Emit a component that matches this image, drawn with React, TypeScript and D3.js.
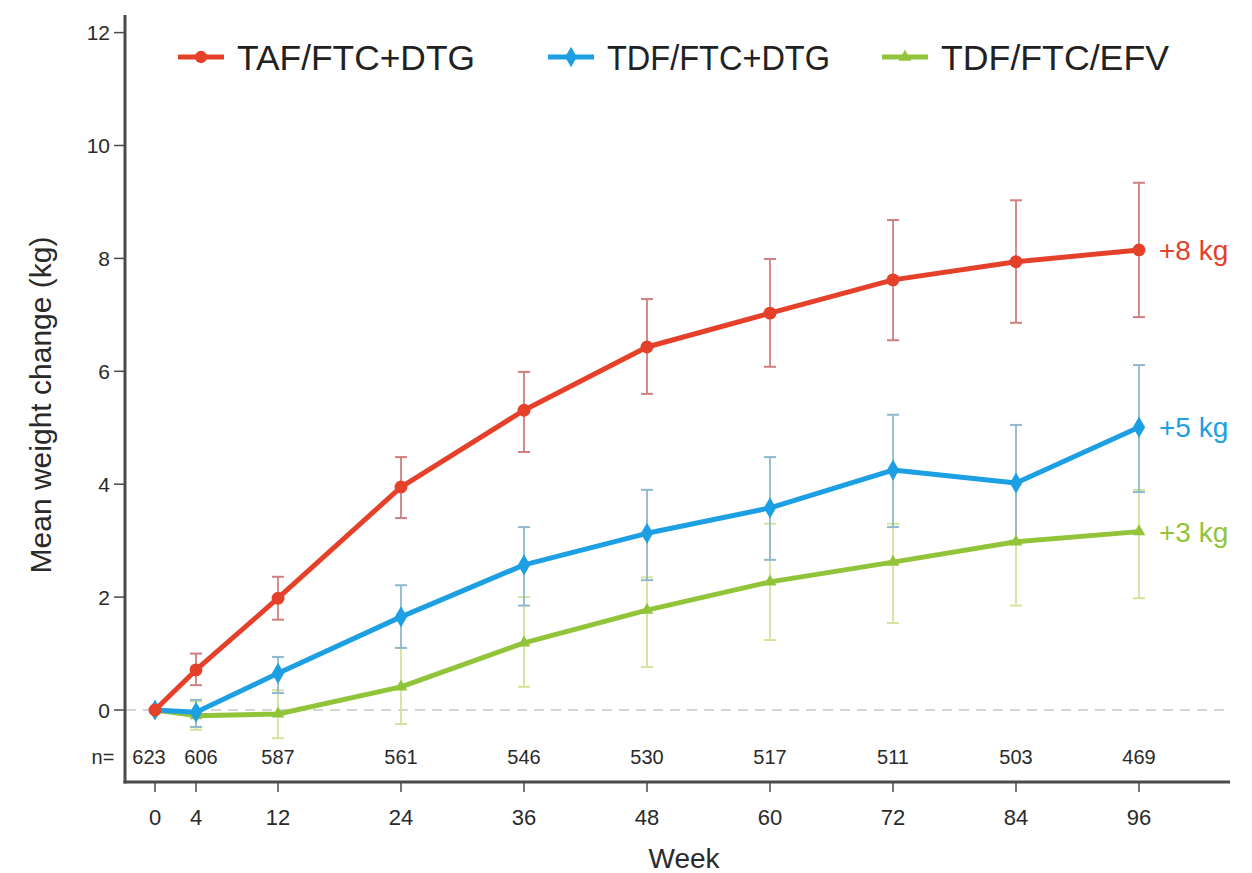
import React, { useEffect, useRef } from "react";
import * as d3 from "d3";

const weeks = [0, 4, 12, 24, 36, 48, 60, 72, 84, 96];
const nAtRisk = ["623", "606", "587", "561", "546", "530", "517", "511", "503", "469"];
const yTicks = [0, 2, 4, 6, 8, 10, 12];

const tafMean = [0, 0.71, 1.98, 3.95, 5.31, 6.43, 7.03, 7.62, 7.94, 8.15];
const tafLow = [0, 0.44, 1.6, 3.4, 4.57, 5.6, 6.08, 6.55, 6.86, 6.96];
const tafHigh = [0, 1.0, 2.36, 4.48, 5.99, 7.28, 7.99, 8.68, 9.03, 9.34];

const tdfDtgMean = [0, -0.04, 0.65, 1.65, 2.57, 3.13, 3.58, 4.25, 4.02, 5.01];
const tdfDtgLow = [0, -0.3, 0.3, 1.1, 1.85, 2.3, 2.66, 3.24, 3.0, 3.86];
const tdfDtgHigh = [0, 0.18, 0.94, 2.21, 3.24, 3.9, 4.48, 5.23, 5.05, 6.11];

const efvMean = [0, -0.1, -0.07, 0.41, 1.19, 1.77, 2.27, 2.62, 2.98, 3.16];
const efvLow = [0, -0.35, -0.5, -0.25, 0.41, 0.76, 1.24, 1.54, 1.85, 1.98];
const efvHigh = [0, 0.15, 0.35, 1.1, 2.0, 2.35, 3.3, 3.3, 4.0, 3.9];

const seriesNames = ["TAF/FTC+DTG", "TDF/FTC+DTG", "TDF/FTC/EFV"];
const seriesColors = ["#e5402a", "#1c9fe3", "#92c43a"];
const errColors = ["#cf7f7f", "#8fb8cc", "#d2e49a"];
const endLabels = ["+8 kg", "+5 kg", "+3 kg"];
const markerTypes = ["circle", "diamond", "triangle"];

export default function App() {
  const ref = useRef<SVGSVGElement | null>(null);

  useEffect(() => {
    const svg = d3.select(ref.current);
    svg.selectAll("*").remove();

    const x = d3.scaleLinear().domain([0, 96]).range([155, 1139]);
    const y = d3.scaleLinear().domain([0, 12]).range([710, 32.6]);
    const font = "'Liberation Sans', Arial, sans-serif";
    const axisColor = "#4a4a4a";
    const textColor = "#2a2a2a";

    const series = [
      { mean: tafMean, low: tafLow, high: tafHigh },
      { mean: tdfDtgMean, low: tdfDtgLow, high: tdfDtgHigh },
      { mean: efvMean, low: efvLow, high: efvHigh },
    ];

    // zero dashed line
    svg.append("line")
      .attr("x1", 126).attr("x2", 1228)
      .attr("y1", y(0)).attr("y2", y(0))
      .attr("stroke", "#c8c8c8").attr("stroke-width", 1.5)
      .attr("stroke-dasharray", "10,7");

    // axes
    const yAxisX = 125;
    const xAxisY = 782;
    svg.append("line").attr("x1", yAxisX).attr("x2", yAxisX).attr("y1", 15).attr("y2", xAxisY + 1.5)
      .attr("stroke", axisColor).attr("stroke-width", 3);
    svg.append("line").attr("x1", yAxisX - 1.5).attr("x2", 1230).attr("y1", xAxisY).attr("y2", xAxisY)
      .attr("stroke", axisColor).attr("stroke-width", 3);

    const yg = svg.append("g");
    yTicks.forEach((t) => {
      yg.append("line").attr("x1", yAxisX - 11).attr("x2", yAxisX).attr("y1", y(t)).attr("y2", y(t))
        .attr("stroke", axisColor).attr("stroke-width", 1.5);
      yg.append("text").attr("x", yAxisX - 15).attr("y", y(t)).attr("dy", "0.36em")
        .attr("text-anchor", "end").attr("font-family", font).attr("font-size", 21)
        .attr("fill", textColor).text(String(t));
    });

    const xg = svg.append("g");
    weeks.forEach((w, i) => {
      xg.append("line").attr("x1", x(w)).attr("x2", x(w)).attr("y1", xAxisY).attr("y2", xAxisY + 10)
        .attr("stroke", axisColor).attr("stroke-width", 1.5);
      xg.append("text").attr("x", x(w)).attr("y", 817).attr("dy", "0.36em")
        .attr("text-anchor", "middle").attr("font-family", font).attr("font-size", 22)
        .attr("fill", textColor).text(String(w));
      const off = i === 0 ? -6 : i === 1 ? 5 : 0;
      xg.append("text").attr("x", x(w) + off).attr("y", 757).attr("dy", "0.36em")
        .attr("text-anchor", "middle").attr("font-family", font).attr("font-size", 20)
        .attr("fill", textColor).text(nAtRisk[i]);
    });
    svg.append("text").attr("x", 103).attr("y", 757).attr("dy", "0.36em")
      .attr("text-anchor", "middle").attr("font-family", font).attr("font-size", 20)
      .attr("fill", textColor).text("n=");

    // axis titles
    svg.append("text").attr("x", 684).attr("y", 858).attr("dy", "0.36em")
      .attr("text-anchor", "middle").attr("font-family", font).attr("font-size", 28)
      .attr("fill", textColor).text("Week");
    svg.append("text").attr("transform", "translate(40,405) rotate(-90)").attr("dy", "0.36em")
      .attr("text-anchor", "middle").attr("font-family", font).attr("font-size", 30)
      .attr("fill", textColor).text("Mean weight change (kg)");

    const symbolFor = (t: string) =>
      t === "circle" ? d3.symbolCircle : t === "diamond" ? d3.symbolDiamond : d3.symbolTriangle;

    // error bars (drawn below lines)
    [2, 1, 0].forEach((si) => {
      const s = series[si];
      const g = svg.append("g");
      weeks.forEach((w, i) => {
        if (w === 0) return;
        const cx = x(w);
        g.append("line").attr("x1", cx).attr("x2", cx).attr("y1", y(s.low[i])).attr("y2", y(s.high[i]))
          .attr("stroke", errColors[si]).attr("stroke-width", 1.8);
        [s.low[i], s.high[i]].forEach((v) => {
          g.append("line").attr("x1", cx - 6).attr("x2", cx + 6).attr("y1", y(v)).attr("y2", y(v))
            .attr("stroke", errColors[si]).attr("stroke-width", 2);
        });
      });
    });

    const line = d3.line<number>().x((_, i) => x(weeks[i])).y((d) => y(d));
    [2, 1, 0].forEach((si) => {
      const s = series[si];
      svg.append("path").datum(s.mean).attr("d", line).attr("fill", "none")
        .attr("stroke", seriesColors[si]).attr("stroke-width", 5).attr("stroke-linejoin", "round");
      const sym = d3.symbol().type(symbolFor(markerTypes[si])).size(si === 2 ? 70 : 130);
      s.mean.forEach((v, i) => {
        svg.append("path").attr("d", sym()!).attr("transform", `translate(${x(weeks[i])},${y(v)})`)
          .attr("fill", seriesColors[si]);
      });
      const last = s.mean.length - 1;
      svg.append("text").attr("x", x(weeks[last]) + 20).attr("y", y(s.mean[last])).attr("dy", "0.36em")
        .attr("font-family", font).attr("font-size", 28).attr("fill", seriesColors[si])
        .text(endLabels[si]);
    });

    // legend
    const legendX = [178, 548, 882];
    const legendLen = [238, 223, 228];
    seriesNames.forEach((name, si) => {
      const lx = legendX[si];
      const ly = 57;
      svg.append("line").attr("x1", lx).attr("x2", lx + 46).attr("y1", ly).attr("y2", ly)
        .attr("stroke", seriesColors[si]).attr("stroke-width", 5);
      const sym = d3.symbol().type(symbolFor(markerTypes[si])).size(si === 2 ? 70 : 120);
      svg.append("path").attr("d", sym()!).attr("transform", `translate(${lx + 23},${ly})`)
        .attr("fill", seriesColors[si]);
      svg.append("text").attr("x", lx + 59).attr("y", ly).attr("dy", "0.36em")
        .attr("font-family", font).attr("font-size", 35).attr("fill", "#222")
        .attr("textLength", legendLen[si]).attr("lengthAdjust", "spacingAndGlyphs")
        .text(name);
    });
  }, []);

  return (
    <svg ref={ref} width={1252} height={873}
      style={{ position: "absolute", left: 0, top: 0, background: "#fff" }} />
  );
}
